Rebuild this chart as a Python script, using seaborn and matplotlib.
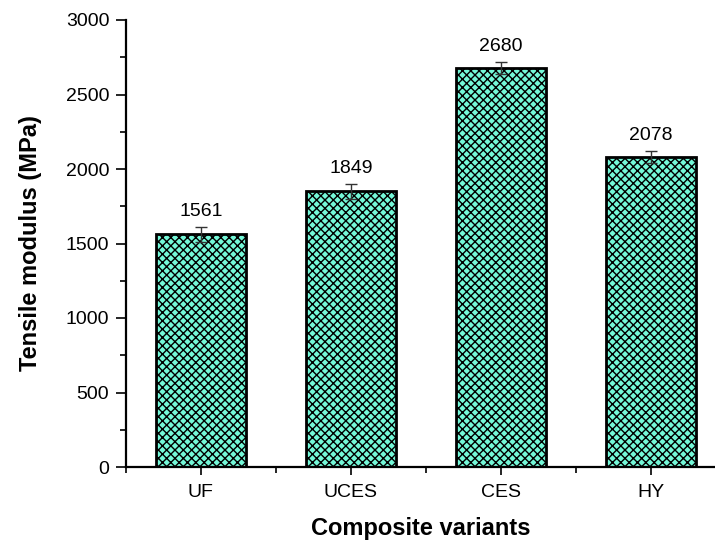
import matplotlib
matplotlib.use("Agg")
import matplotlib.pyplot as plt
import seaborn as sns
import pandas as pd
import numpy as np
from matplotlib.ticker import MultipleLocator, FixedLocator

categories = ["UF", "UCES", "CES", "HY"]
modulus = [1561, 1849, 2680, 2078]
errors = [50, 48, 40, 40]

sns.set_style("ticks")
plt.rcParams['font.family'] = ['Liberation Sans', 'DejaVu Sans']
plt.rcParams['hatch.linewidth'] = 1.0
plt.rcParams['hatch.color'] = 'black'
plt.rcParams['text.color'] = 'black'
plt.rcParams['axes.labelcolor'] = 'black'
plt.rcParams['xtick.color'] = 'black'
plt.rcParams['ytick.color'] = 'black'
plt.rcParams['axes.edgecolor'] = 'black'

df = pd.DataFrame({"Variant": categories, "Modulus": modulus})

fig = plt.figure(figsize=(7.15, 5.46), dpi=100)
ax = fig.add_axes([126/715, 79/546, (715-126)/715, 447/546])

sns.barplot(data=df, x="Variant", y="Modulus", color="#74F8D8", width=0.6,
            edgecolor="black", linewidth=2.0, errorbar=None, ax=ax, saturation=1)
for p in ax.patches:
    p.set_hatch("xxxx")
    p.set_edgecolor("black")

xpos = np.arange(len(categories))
ax.errorbar(xpos, modulus, yerr=errors, fmt="none", ecolor="#333333",
            elinewidth=1.0, capsize=4, capthick=1.0, zorder=5)

for x, v, e in zip(xpos, modulus, errors):
    ax.annotate(f"{v}", xy=(x, v + e), xytext=(0, 8), textcoords="offset points",
                ha="center", va="baseline", fontsize=14, color="black")

ax.set_xlim(-0.5, 3.43)
ax.set_ylim(0, 3000)
ax.yaxis.set_major_locator(MultipleLocator(500))
ax.yaxis.set_minor_locator(MultipleLocator(250))
ax.xaxis.set_minor_locator(FixedLocator([-0.5, 0.5, 1.5, 2.5]))

sns.despine(ax=ax)
for s in ["left", "bottom"]:
    ax.spines[s].set_linewidth(1.6)
ax.tick_params(axis="y", which="major", length=7, width=1.2, labelsize=14, pad=5, direction="out")
ax.tick_params(axis="x", which="major", length=6, width=1.2, labelsize=14, pad=6, direction="out")
ax.tick_params(axis="both", which="minor", length=4, width=1.2, direction="out")

ax.set_xlabel("Composite variants", fontsize=17, fontweight="bold", labelpad=12)
ax.set_ylabel("Tensile modulus (MPa)", fontsize=17, fontweight="bold", labelpad=17)

fig.savefig("out.png", dpi=100)
